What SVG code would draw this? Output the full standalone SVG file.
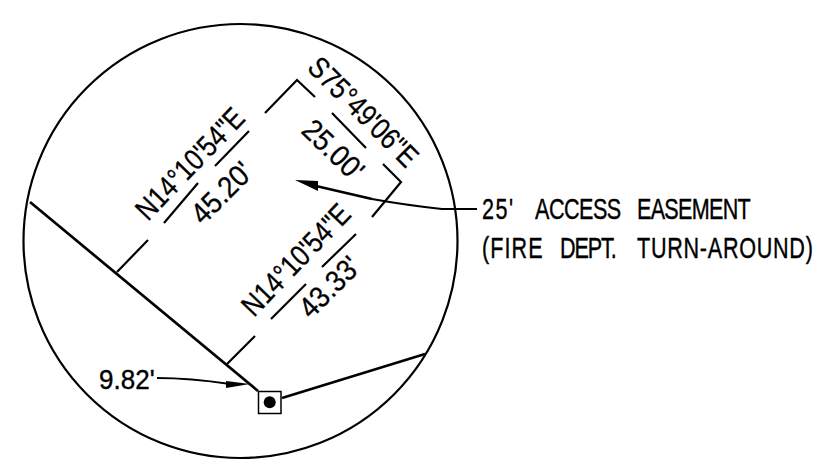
<svg xmlns="http://www.w3.org/2000/svg" width="831" height="462" viewBox="0 0 831 462">
<style>
.l{fill:none;stroke:#000;stroke-width:2.200}
.t{fill:none;stroke:#000;stroke-width:2.700}
.x{font-family:"Liberation Sans",Arial,sans-serif;font-size:30px;fill:#000;stroke:#000;stroke-width:.4}
.w{font-family:"Liberation Sans",Arial,sans-serif;font-size:30px;fill:#000;stroke:#000;stroke-width:.3}
</style>
<rect width="831" height="462" fill="#fff"/>
<g id="boundary"><circle class="l" cx="240.500" cy="241" r="217"/></g>
<g id="connectors">
<path class="t" d="M30 202L258 391"/>
<path class="t" d="M282 398L425 354"/>
<path class="l" d="M117 272L148 240M265 113L297 80L315 97M383 164L401 182L372 217M227 364L255 336"/>
<path class="l" d="M164 223L198 183M215 166L249 131M332 113L366 148M271 319L306 284M322 267L356 234"/>
<path class="l" d="M372 199Q405 205 442 209L477 209"/>
<path class="t" d="M316 186L372 199"/>
<path d="M295 180L318 181L318 191Z"/>
<path class="l" d="M157 378Q190 378 230 384"/>
<path d="M226 381L250 384L226 388Z"/>
</g>
<g id="monument">
<rect x="258.500" y="391.500" width="22.500" height="22" fill="#fff" stroke="#000" stroke-width="1.500"/>
<circle cx="269.700" cy="402.300" r="6"/>
</g>
<g id="labels">
<text class="w" transform="translate(148 222) rotate(-46) scale(.835 1)">N14°10'54"E</text>
<text class="w" transform="translate(203 226) rotate(-45) scale(.91 1)">45.20'</text>
<text class="w" transform="translate(306 69) rotate(45) scale(.84 1)">S75°49'06"E</text>
<text class="w" transform="translate(300 132) rotate(44) scale(.9 1)">25.00'</text>
<text class="w" transform="translate(254 318) rotate(-46) scale(.835 1)">N14°10'54"E</text>
<text class="w" transform="translate(311 320) rotate(-45) scale(.9 1)">43.33'</text>
<text class="x" transform="translate(99 389) scale(.93 1)" style="font-size:28px">9.82'</text>
<text class="x" transform="translate(482 219) scale(.72 1)"><tspan style="letter-spacing:2px">25'</tspan> <tspan x="73.600" style="letter-spacing:-.7px">ACCESS</tspan> <tspan x="215.300" style="letter-spacing:-1px">EASEMENT</tspan></text>
<text class="x" transform="translate(482 258) scale(.72 1)"><tspan style="letter-spacing:1.500px">(FIRE</tspan> <tspan x="108.300" style="letter-spacing:-1.500px">DEPT.</tspan> <tspan x="215.300" style="letter-spacing:1px">TURN-AROUND)</tspan></text>
</g>
</svg>
